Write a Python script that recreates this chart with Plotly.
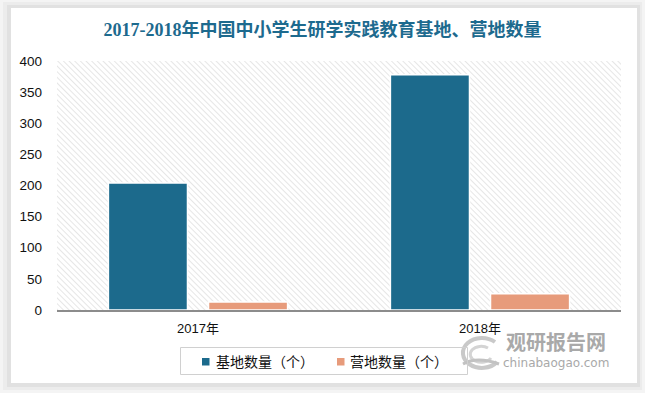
import base64
import plotly.graph_objects as go

categories = ["2017年", "2018年"]
base_counts = [204, 378]
camp_counts = [13, 26]
series_names = ["基地数量（个）", "营地数量（个）"]
title_text = "2017-2018年中国中小学生研学实践教育基地、营地数量"
y_ticks = [0, 50, 100, 150, 200, 250, 300, 350, 400]

BLUE = "#1c6a8c"
SALMON = "#e79b7b"

W, H = 645, 393
L, R, T, B = 57, 24, 61, 83
PW, PH = W - L - R, H - T - B

hatch_svg = f'''<svg xmlns="http://www.w3.org/2000/svg" width="{PW}" height="{PH}">
<defs><pattern id="p" width="4" height="4" patternUnits="userSpaceOnUse" patternTransform="rotate(-45)">
<line x1="0" y1="0" x2="0" y2="4" stroke="#cdcdcd" stroke-width="1"/></pattern></defs>
<rect width="{PW}" height="{PH}" fill="url(#p)"/></svg>'''
hatch_uri = "data:image/svg+xml;base64," + base64.b64encode(hatch_svg.encode()).decode()

logo_svg = '''<svg xmlns="http://www.w3.org/2000/svg" width="46" height="38" viewBox="0 0 46 38">
<path d="M40 8 A19 15 0 1 0 42 28" fill="none" stroke="#c4c4c4" stroke-width="4"/>
<path d="M33 14 A11 8 0 1 0 36 24" fill="none" stroke="#d0d0d0" stroke-width="3"/>
<path d="M8 30 Q22 22 44 30" fill="none" stroke="#bcbcbc" stroke-width="3"/>
</svg>'''
logo_uri = "data:image/svg+xml;base64," + base64.b64encode(logo_svg.encode()).decode()


def px_x(x):
    return (x - L) / PW


def px_y(y):
    return (H - B - y) / PH


def rect_path(x0, y0, x1, y1):
    return (f"M{px_x(x0)},{px_y(y0)} L{px_x(x1)},{px_y(y0)} "
            f"L{px_x(x1)},{px_y(y1)} L{px_x(x0)},{px_y(y1)} Z")


fig = go.Figure()
fig.add_trace(go.Bar(x=categories, y=base_counts, name=series_names[0],
                     marker=dict(color=BLUE, line=dict(color="white", width=1.5)),
                     showlegend=False))
fig.add_trace(go.Bar(x=categories, y=camp_counts, name=series_names[1],
                     marker=dict(color=SALMON, line=dict(color="white", width=1.5)),
                     showlegend=False))

shapes = []
rings = [((0, 0, W, H), (3, 2, W - 3, H - 3), "#f4f4f4"),
         ((3, 2, W - 3, H - 3), (7, 5, W - 5, H - 6), "#ececec"),
         ((7, 5, W - 5, H - 6), (11, 8, 637, 383), "#e1e1e1")]
for outer, inner, c in rings:
    shapes.append(dict(type="path", xref="paper", yref="paper",
                       path=rect_path(*outer) + " " + rect_path(*inner),
                       fillrule="evenodd", fillcolor=c, line=dict(width=0), layer="below"))

shapes.append(dict(type="rect", xref="paper", yref="paper",
                   x0=px_x(180.5), x1=px_x(467.5), y0=px_y(374.5), y1=px_y(347.5),
                   line=dict(color="#d0d0d0", width=1), fillcolor="rgba(0,0,0,0)", layer="above"))
for sx, col in zip([202, 337], [BLUE, SALMON]):
    shapes.append(dict(type="rect", xref="paper", yref="paper",
                       x0=px_x(sx), x1=px_x(sx + 7.5), y0=px_y(365.5), y1=px_y(358),
                       line=dict(width=0), fillcolor=col, layer="above"))

annotations = [
    dict(text=series_names[0], xref="paper", yref="paper", x=px_x(214), y=px_y(361),
         xanchor="left", yanchor="middle", showarrow=False,
         font=dict(family="Noto Sans CJK SC, sans-serif", size=14, color="#111")),
    dict(text=series_names[1], xref="paper", yref="paper", x=px_x(348), y=px_y(361),
         xanchor="left", yanchor="middle", showarrow=False,
         font=dict(family="Noto Sans CJK SC, sans-serif", size=14, color="#111")),
    dict(text="<b>观研报告网</b>", xref="paper", yref="paper", x=px_x(556), y=px_y(341),
         xanchor="center", yanchor="middle", showarrow=False,
         font=dict(family="Noto Sans CJK SC, sans-serif", size=20, color="#a9a9a9")),
    dict(text="chinabaogao.com", xref="paper", yref="paper", x=px_x(556), y=px_y(363),
         xanchor="center", yanchor="middle", showarrow=False,
         font=dict(family="DejaVu Sans, sans-serif", size=12, color="#a9a9a9")),
]

fig.update_layout(
    width=W, height=H,
    margin=dict(l=L, r=R, t=T, b=B, autoexpand=False),
    paper_bgcolor="white",
    plot_bgcolor="rgba(0,0,0,0)",
    showlegend=False,
    barmode="group", bargap=0.29, bargroupgap=0.21,
    font=dict(family="Liberation Sans, Noto Sans CJK SC, sans-serif", size=13, color="#222"),
    title=dict(text=title_text, x=0.5, xref="container", xanchor="center",
               y=1 - 30 / H, yref="container", yanchor="middle",
               font=dict(family="Liberation Serif, Noto Sans CJK SC, serif", size=18,
                         color="#1d6a8e", weight="bold")),
    xaxis=dict(showline=True, linecolor="#8c8c8c", linewidth=1.5, ticks="",
               showgrid=False, ticklabelstandoff=6, automargin=False,
               tickfont=dict(size=13, color="#111")),
    yaxis=dict(range=[0, 400], tickvals=y_ticks, showgrid=False, zeroline=False,
               showline=False, ticks="", ticklabelstandoff=14, automargin=False,
               tickfont=dict(size=13.5, color="#111")),
    shapes=shapes,
    images=[
        dict(source=hatch_uri, xref="paper", yref="paper", x=0, y=1, sizex=1, sizey=1,
             xanchor="left", yanchor="top", sizing="stretch", layer="below"),
        dict(source=logo_uri, xref="paper", yref="paper", x=px_x(455), y=px_y(334),
             sizex=46 / PW, sizey=38 / PH, xanchor="left", yanchor="top",
             sizing="stretch", layer="above", opacity=0.9),
    ],
    annotations=annotations,
)

fig.write_html("out.html", config={"displayModeBar": False},
               post_script="document.body.style.margin='0';document.body.style.overflow='hidden';")
